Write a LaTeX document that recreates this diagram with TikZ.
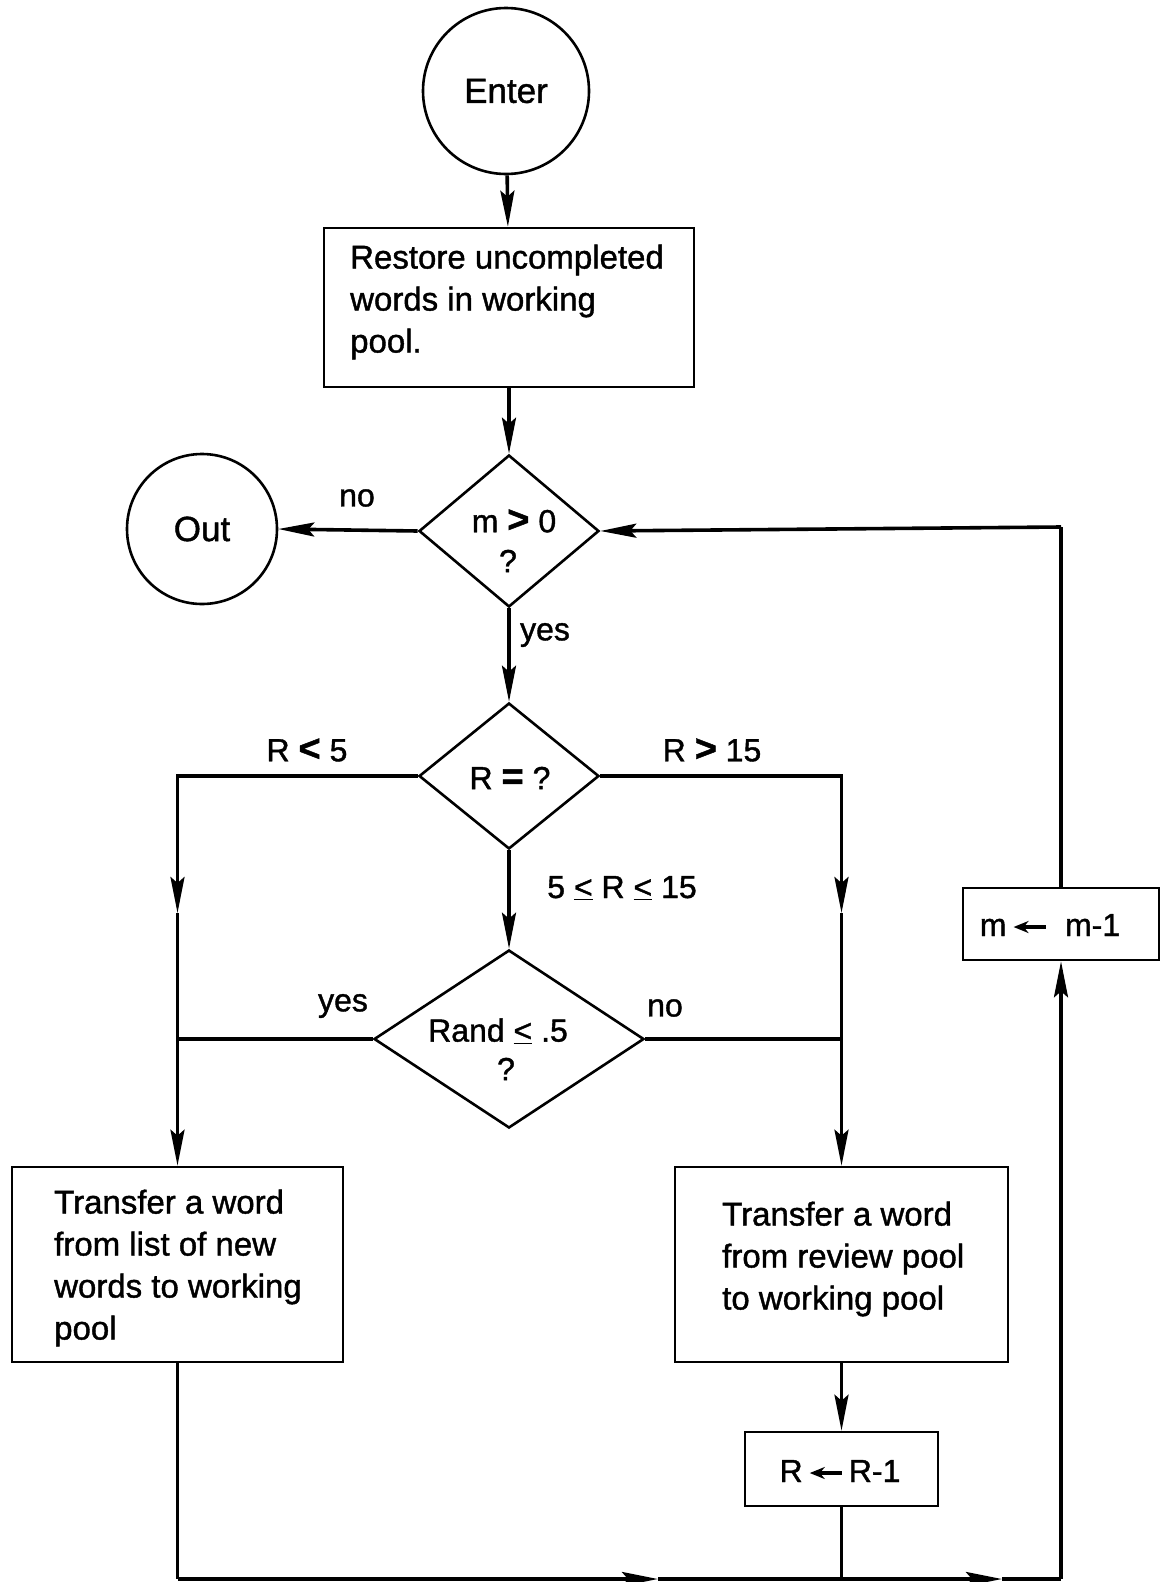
\documentclass[tikz,border=0pt]{standalone}
\usepackage{fontspec}
\setmainfont[FakeBold=1.2]{Liberation Sans}
\usetikzlibrary{arrows.meta,shapes.geometric}
\newcommand{\larr}{\tikz[baseline=-9pt]\draw[line width=3.5pt,-{Stealth[length=15pt,width=12pt]}] (32pt,0pt)--(0pt,0pt);}
\newcommand{\uleq}{\underline{<}}
\newcommand{\bigrel}[1]{{\fontsize{38}{38}\selectfont\bfseries #1}}
\begin{document}
\begin{tikzpicture}[x=1pt,y=-1pt,
  shape line/.style={draw=black,line width=2.6pt},
  circ/.style={shape line,circle,inner sep=0pt,font=\fontsize{35}{42}\selectfont},
  box/.style={shape line,rectangle,inner sep=0pt},
  dia/.style={shape line,diamond,inner sep=0pt,aspect=1},
  txt/.style={inner sep=0pt,align=left,font=\fontsize{33}{42}\selectfont},
  lbl/.style={inner sep=0pt,font=\fontsize{32}{40}\selectfont},
  conn/.style={line width=3.6pt},
  arr/.style={conn,-{Stealth[length=36pt,width=14pt,inset=6pt]}}]
\useasboundingbox (0,0) rectangle (1160,1582);
\fill[white] (0,0) rectangle (1160,1582);

% nodes
\node[circ,minimum size=166pt] (enter) at (506,91) {Enter};
\node[box,minimum width=370pt,minimum height=159pt] (restore) at (509,307.5) {};
\node[txt,anchor=west] (restoretxt) at (350,302) {Restore uncompleted\\words in working\\pool.};

\node[dia,minimum width=180pt,minimum height=152pt] (d1) at (509,531) {};
\node[lbl] (d1a) at (514,521) {m \bigrel{>} 0};
\node[lbl] (d1b) at (508,561) {?};

\node[circ,minimum size=150pt] (out) at (202,529) {Out};

\node[dia,minimum width=180pt,minimum height=146pt] (d2) at (509,776) {};
\node[lbl] (d2a) at (510,778) {R \bigrel{=} ?};

\node[dia,minimum width=270pt,minimum height=178pt] (d3) at (509,1039) {};
\node[lbl] (d3a) at (498,1031) {Rand \uleq\ .5};
\node[lbl] (d3b) at (506,1069) {?};

\node[box,minimum width=331pt,minimum height=195pt] (lbox) at (177.5,1264.5) {};
\node[txt,anchor=west] (lboxtxt) at (54,1268) {Transfer a word\\from list of new\\words to working\\pool};

\node[box,minimum width=333pt,minimum height=195pt] (rbox) at (841.5,1264.5) {};
\node[txt,anchor=west] (rboxtxt) at (722,1259) {Transfer a word\\from review pool\\to working pool};

\node[box,minimum width=193pt,minimum height=74pt] (rr) at (841.5,1469) {};
\node[lbl] (rrtxt) at (840,1471) {R\,\larr\,R-1};

\node[box,minimum width=196pt,minimum height=72pt] (mbox) at (1061,924) {};
\node[lbl] (mboxtxt) at (1050,925) {m\,\larr\;\ m-1};

% labels
\node[lbl] (lno1) at (357,498) {no};
\node[lbl] (lyes1) at (545,635) {yes};
\node[lbl] (lrlt) at (307,750) {R \bigrel{<} 5};
\node[lbl] (lrgt) at (712,750) {R \bigrel{>} 15};
\node[lbl] (lrmid) at (622,888) {5 \uleq\ R \uleq\ 15};
\node[lbl] (lyes2) at (343,1006) {yes};
\node[lbl] (lno2) at (665,1008) {no};

% coordinates
\coordinate (la) at (177.5,913);
\coordinate (ra) at (841.5,913);
\coordinate (bl) at (177.5,1579);
\coordinate (b1) at (658,1579);
\coordinate (b2) at (1002,1579);
\coordinate (br) at (1061,1579);
\coordinate (tr) at (1061,527);

% connectors
\draw[arr] (enter) -- (restore);
\draw[arr] (restore) -- (d1);
\draw[arr] (d1.west) -- (out.east);
\draw[arr] (d1.south) -- (d2.north);
\draw[arr] (d2.south) -- (d3.north);
\draw[arr] (d2.west) -| (la);
\draw[arr] (la) -- (lbox.north);
\draw[arr] (d2.east) -| (ra);
\draw[arr] (ra) -- (rbox.north);
\draw[conn] (d3.west) -- (d3.west -| la);
\draw[conn] (d3.east) -- (d3.east -| ra);
\draw[arr] (rbox.south) -- (rr.north);
\draw[conn] (rr.south) -- (rr.south |- bl);
\draw[conn] (lbox.south) -- (bl);
\draw[arr] (bl) -- (b1);
\draw[arr] (b1) -- (b2);
\draw[conn] (b2) -- (br);
\draw[arr] (br) -- (mbox.south);
\draw[conn] (mbox.north) -- (tr);
\draw[arr] (tr) -- (d1.east);
\end{tikzpicture}
\end{document}
